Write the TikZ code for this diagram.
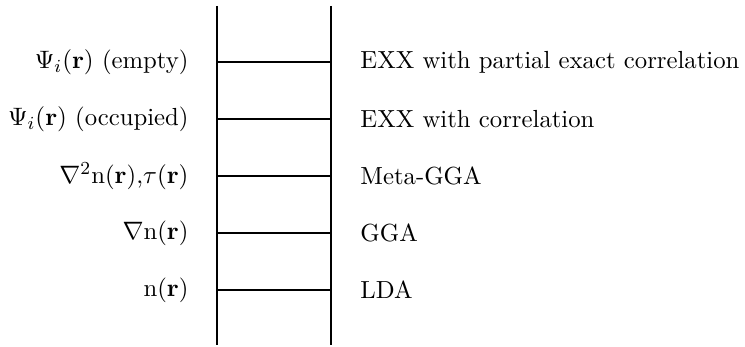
\documentclass[tikz,border=0pt]{standalone}
\begin{document}
\begin{tikzpicture}[x=0.4348pt,y=-0.4348pt,
  rail/.style={line width=0.85pt},
  rung/.style={line width=0.85pt},
  lab/.style={inner sep=0pt,font=\fontsize{10.75}{13}\selectfont},
  leftlab/.style={lab,anchor=east},
  rightlab/.style={lab,anchor=west}]
\useasboundingbox (0,0) rectangle (745,347);
\coordinate (lt) at (217,6);
\coordinate (lb) at (217,345);
\coordinate (rt) at (331,6);
\coordinate (rb) at (331,345);
\draw[rail] (lt) -- (lb);
\draw[rail] (rt) -- (rb);
\foreach \y/\nm in {62/a,119/b,176/c,233/d,290/e}{
  \coordinate (L\nm) at (217,\y);
  \coordinate (R\nm) at (331,\y);
  \draw[rung] (L\nm) -- (R\nm);
}
\node[leftlab] (la) at (189,62) {$\Psi_i(\mathbf{r})$ (empty)};
\node[leftlab] (lb2) at (189,119) {$\Psi_i(\mathbf{r})$ (occupied)};
\node[leftlab] (lc) at (189,176) {$\nabla^2$n($\mathbf{r}$),$\tau(\mathbf{r})$};
\node[leftlab] (ld) at (189,233) {$\nabla$n($\mathbf{r}$)};
\node[leftlab] (le) at (189,290) {n($\mathbf{r}$)};
\node[rightlab] (ra) at (360,62) {EXX with partial exact correlation};
\node[rightlab] (rb2) at (360,119) {EXX with correlation};
\node[rightlab] (rc) at (360,176) {Meta-GGA};
\node[rightlab] (rd) at (360,233) {GGA};
\node[rightlab] (re) at (360,290) {LDA};
\end{tikzpicture}
\end{document}
